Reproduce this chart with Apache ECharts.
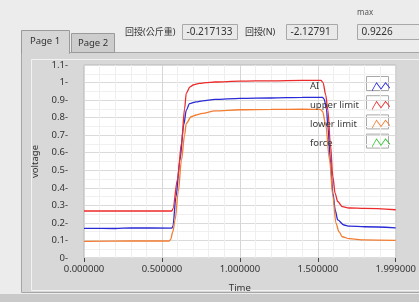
<!DOCTYPE html>
<html>
<head>
<meta charset="utf-8">
<script src="https://cdn.jsdelivr.net/npm/echarts@6/dist/echarts.min.js"></script>
<style>
  html, body { margin: 0; padding: 0; background: #ececec; }
  #chart { width: 419px; height: 302px; }
</style>
</head>
<body>
<div id="chart"></div>
<script>
// upper limit (red)
var upperTime = [0, 0.3, 0.563, 0.57, 0.6, 0.625, 0.645, 0.656, 0.68, 0.70, 0.74, 0.78, 0.84, 1.0, 1.2, 1.4, 1.52, 1.533, 1.55, 1.564, 1.58, 1.596, 1.61, 1.627, 1.657, 1.7, 1.8, 1.999];
var upperVal = [0.268, 0.268, 0.268, 0.28, 0.45, 0.653, 0.85, 0.94, 0.975, 0.986, 0.995, 0.999, 1.003, 1.008, 1.01, 1.012, 1.012, 1.0, 0.93, 0.843, 0.65, 0.463, 0.37, 0.322, 0.293, 0.285, 0.283, 0.275];

// AI (blue)
var aiTime = [0, 0.2, 0.3, 0.563, 0.57, 0.59, 0.615, 0.64, 0.656, 0.677, 0.72, 0.76, 0.84, 1.0, 1.2, 1.4, 1.53, 1.54, 1.555, 1.564, 1.58, 1.596, 1.612, 1.627, 1.667, 1.7, 1.8, 1.999];
var aiVal = [0.169, 0.168, 0.172, 0.17, 0.18, 0.35, 0.558, 0.76, 0.843, 0.88, 0.89, 0.896, 0.904, 0.91, 0.912, 0.915, 0.916, 0.905, 0.85, 0.748, 0.56, 0.368, 0.27, 0.217, 0.188, 0.182, 0.178, 0.172];

// lower limit (orange)
var lowerTime = [0, 0.3, 0.545, 0.555, 0.57, 0.584, 0.605, 0.625, 0.645, 0.656, 0.687, 0.72, 0.76, 0.84, 1.0, 1.2, 1.4, 1.515, 1.53, 1.55, 1.575, 1.595, 1.616, 1.635, 1.657, 1.7, 1.8, 1.999];
var lowerVal = [0.095, 0.097, 0.097, 0.105, 0.15, 0.217, 0.38, 0.558, 0.70, 0.767, 0.805, 0.815, 0.824, 0.838, 0.845, 0.847, 0.848, 0.847, 0.835, 0.76, 0.558, 0.36, 0.198, 0.15, 0.121, 0.11, 0.103, 0.1];

var seriesNames = ["AI", "upper limit", "lower limit", "force"];
var seriesColors = ["#2a2ad6", "#ec2a2a", "#f27c32", "#3cc43c"];
var xTicks = [0, 0.5, 1, 1.5, 1.999];

// indicators on top
var fbKg = "-0.217133";
var fbN = "-2.12791";
var maxVal = "0.9226";

function pairs(t, v) {
  return t.map(function (x, i) { return [x, v[i]]; });
}

var font = "'Noto Sans', 'Noto Sans CJK TC', sans-serif";
var zig = "path://M0,11L5,2L10,9L15,2L20,8L20,9.6L15,3.6L10,10.6L5,3.6L0,12.6Z";

var chart = echarts.init(document.getElementById("chart"));

function box(x, y, w, h, txt) {
  return [
    { type: "rect", shape: { x: x, y: y, width: w, height: h }, style: { fill: "#e9e9e9", stroke: "#a8a8a8", lineWidth: 1 } },
    { type: "text", x: x + 4, y: y + h / 2, style: { text: txt, font: "10px " + font, fill: "#333", verticalAlign: "middle" } },
  ];
}

var graphics = [
  // tab page panel
  { type: "rect", z: -10, shape: { x: 21.5, y: 52.5, width: 400, height: 240 }, style: { fill: "#d6d6d6", stroke: "#a6a6a6", lineWidth: 1 } },
  { type: "rect", z: -10, shape: { x: 31.5, y: 59.5, width: 390, height: 231 }, style: { fill: "#d8d8d8", stroke: "#f2f2f2", lineWidth: 1 } },
  { type: "rect", z: -10, shape: { x: 0, y: 294, width: 419, height: 8 }, style: { fill: "#c9c9c9" } },
  // tabs
  { type: "rect", shape: { x: 71.5, y: 33.5, width: 43, height: 19 }, style: { fill: "#cdcdcd", stroke: "#9a9a9a", lineWidth: 1 } },
  { type: "text", x: 93, y: 43, style: { text: "Page 2", font: "9.5px " + font, fill: "#333", align: "center", verticalAlign: "middle" } },
  { type: "rect", shape: { x: 21.5, y: 30.5, width: 48, height: 23 }, style: { fill: "#d6d6d6", stroke: "#9a9a9a", lineWidth: 1 } },
  { type: "rect", shape: { x: 22, y: 52, width: 47, height: 3 }, style: { fill: "#d6d6d6" } },
  { type: "text", x: 45, y: 41, style: { text: "Page 1", font: "9.5px " + font, fill: "#333", align: "center", verticalAlign: "middle" } },
  // labels
  { type: "text", x: 125, y: 32, style: { text: "回授(公斤重)", font: "9px " + font, fill: "#333", verticalAlign: "middle" } },
  { type: "text", x: 245, y: 32, style: { text: "回授(N)", font: "9px " + font, fill: "#333", verticalAlign: "middle" } },
  { type: "text", x: 357, y: 13, style: { text: "max", font: "8px " + font, fill: "#555", verticalAlign: "middle" } },
].concat(box(182.5, 24.5, 55, 15, fbKg), box(286.5, 24.5, 51, 15, fbN), box(357.5, 24.5, 64, 15, maxVal));

// legend frames
for (var i = 0; i < 4; i++) {
  graphics.push({ type: "rect", shape: { x: 366.5, y: 76.5 + i * 19.2, width: 22, height: 14 }, style: { fill: "none", stroke: "#a9a9a9", lineWidth: 1 } });
}

chart.setOption({
  animation: false,
  textStyle: { fontFamily: font },
  graphic: graphics,
  grid: {
    left: 84, right: 12, top: 65, bottom: 44,
    show: true, backgroundColor: "#ffffff", borderColor: "#b8b8b8", borderWidth: 1,
  },
  legend: {
    orient: "vertical",
    left: 305, top: 77,
    align: "right",
    itemWidth: 18, itemHeight: 10, itemGap: 9.2,
    formatter: function (n) { return "{t|" + n + "}"; },
    textStyle: {
      fontSize: 9.5, color: "#3a3a3a",
      rich: { t: { width: 57, align: "left", fontSize: 9.5, color: "#3a3a3a" } },
    },
    data: seriesNames.map(function (n) { return { name: n, icon: zig }; }),
  },
  xAxis: {
    type: "value", min: 0, max: 1.999, interval: 0.5,
    name: "Time", nameLocation: "middle", nameGap: 26,
    nameTextStyle: { fontSize: 9.5, color: "#333" },
    axisLine: { show: false },
    axisTick: { show: true, length: 4, lineStyle: { color: "#444" }, customValues: xTicks },
    axisLabel: { fontSize: 9.5, color: "#333", margin: 7, customValues: xTicks,
      formatter: function (v) { return v.toFixed(6); } },
    splitLine: { show: true, lineStyle: { color: "#d6d6d6" } },
    minorTick: { show: false, splitNumber: 5 },
    minorSplitLine: { show: true, lineStyle: { color: "#efefef" } },
  },
  yAxis: {
    type: "value", min: 0, max: 1.1, interval: 0.1,
    name: "voltage", nameLocation: "middle", nameGap: 44, nameRotate: 90,
    nameTextStyle: { fontSize: 9.5, color: "#333" },
    axisLine: { show: false },
    axisTick: { show: false },
    axisLabel: { fontSize: 9.5, color: "#333", margin: 16,
      formatter: function (v) { return Math.round(v * 10) / 10 + "-"; } },
    splitLine: { show: true, lineStyle: { color: "#dadada" } },
    minorTick: { show: false, splitNumber: 2 },
    minorSplitLine: { show: true, lineStyle: { color: "#f0f0f0" } },
  },
  series: [
    { name: "AI", type: "line", data: pairs(aiTime, aiVal) },
    { name: "upper limit", type: "line", data: pairs(upperTime, upperVal) },
    { name: "lower limit", type: "line", data: pairs(lowerTime, lowerVal) },
    { name: "force", type: "line", data: [] },
  ].map(function (s, i) {
    s.showSymbol = false;
    s.symbol = "none";
    s.smooth = 0.3;
    s.smoothMonotone = "x";
    s.color = seriesColors[i];
    s.lineStyle = { width: 1.3, color: seriesColors[i] };
    return s;
  }),
});
</script>
</body>
</html>
